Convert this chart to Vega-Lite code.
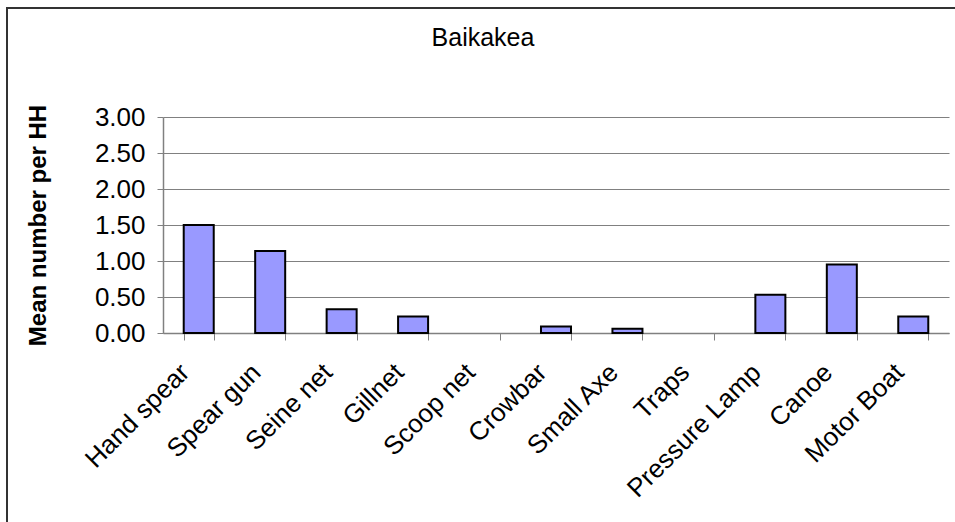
{
  "$schema": "https://vega.github.io/schema/vega-lite/v6.json",
  "width": 952,
  "height": 520,
  "autosize": {"type": "none"},
  "padding": {"left": 7, "top": 8, "right": -4, "bottom": -6},
  "background": "white",
  "title": {
    "text": "Baikakea",
    "anchor": "middle",
    "frame": "group",
    "offset": -63,
    "baseline": "alphabetic",
    "font": "Liberation Sans",
    "fontSize": 25,
    "fontWeight": "normal",
    "color": "black"
  },
  "data": {
    "values": [
      {"gear": "Hand spear", "mean": 1.5},
      {"gear": "Spear gun", "mean": 1.14},
      {"gear": "Seine net", "mean": 0.33},
      {"gear": "Gillnet", "mean": 0.23},
      {"gear": "Scoop net", "mean": 0},
      {"gear": "Crowbar", "mean": 0.09},
      {"gear": "Small Axe", "mean": 0.06},
      {"gear": "Traps", "mean": 0},
      {"gear": "Pressure Lamp", "mean": 0.53},
      {"gear": "Canoe", "mean": 0.95},
      {"gear": "Motor Boat", "mean": 0.23}
    ]
  },
  "mark": {"type": "bar", "fill": "#9999FF", "strokeWidth": 2},
  "encoding": {
    "x": {
      "field": "gear",
      "type": "nominal",
      "sort": null,
      "scale": {"range": [156, 942], "paddingInner": 0.58, "paddingOuter": 0.29},
      "axis": {
        "title": null,
        "offset": -195,
        "grid": false,
        "tickBand": "extent",
        "tickSize": 7,
        "tickColor": "#808080",
        "domainColor": "#808080",
        "domainWidth": 1.5,
        "labelAngle": -45,
        "labelAlign": "right",
        "labelBaseline": "middle",
        "labelPadding": 28,
        "labelOffset": -14,
        "labelFont": "Liberation Sans",
        "labelFontSize": 26,
        "labelColor": "black"
      }
    },
    "y": {
      "field": "mean",
      "type": "quantitative",
      "scale": {"domain": [0, 3], "range": [325, 109], "nice": false},
      "axis": {
        "values": [0, 0.5, 1, 1.5, 2, 2.5, 3],
        "format": ".2f",
        "offset": -156,
        "grid": true,
        "gridColor": "#808080",
        "gridWidth": 1,
        "domainColor": "#808080",
        "domainWidth": 1.5,
        "tickColor": "#808080",
        "tickSize": 6,
        "labelPadding": 12,
        "labelFont": "Liberation Sans",
        "labelFontSize": 26,
        "labelColor": "black",
        "title": "Mean number per HH",
        "titleFont": "Liberation Sans",
        "titleFontSize": 24,
        "titleFontWeight": "bold",
        "titleColor": "black",
        "titlePadding": 44
      }
    },
    "stroke": {
      "condition": {"test": "datum.mean > 0", "value": "black"},
      "value": null
    }
  },
  "config": {
    "view": {"stroke": "#333333", "strokeWidth": 2}
  }
}
